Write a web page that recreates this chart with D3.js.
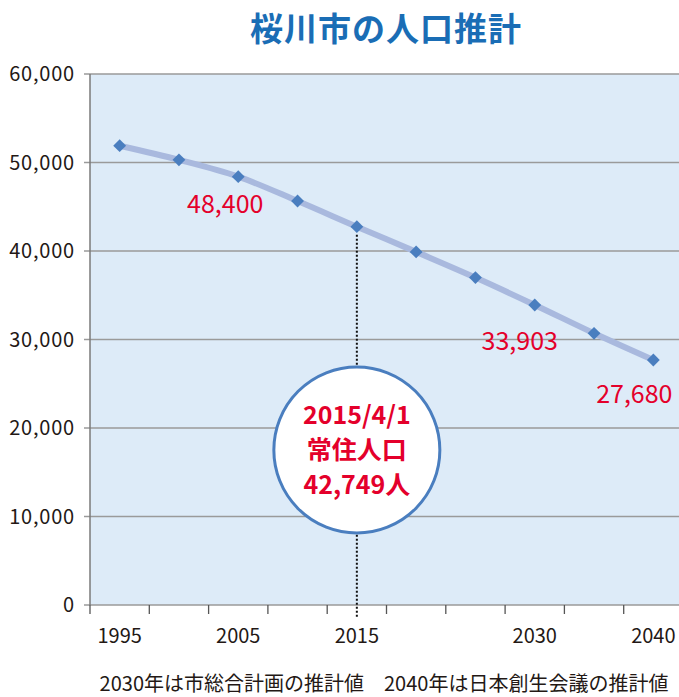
<!DOCTYPE html>
<html>
<head>
<meta charset="utf-8">
<script src="https://cdn.jsdelivr.net/npm/d3@7"></script>
<style>
  body { margin: 0; background: #fff; }
  text { font-family: "Noto Sans CJK JP", "Noto Sans", sans-serif; }
</style>
</head>
<body>
<div id="chart"></div>
<script>
const years = ['1995', '2000', '2005', '2010', '2015', '2020', '2025', '2030', '2035', '2040'];
const population = [51900, 50300, 48400, 45650, 42749, 39900, 37000, 33903, 30700, 27680];
const shownYears = ['1995', '2005', '2015', '2030', '2040'];
const yTicks = [0, 10000, 20000, 30000, 40000, 50000, 60000];
const labelled = [
  {year: '2005', text: '48,400', dx: -13, dy: 36},
  {year: '2030', text: '33,903', dx: -15, dy: 45},
  {year: '2040', text: '27,680', dx: -19, dy: 43}
];
const bubbleLines = ['2015/4/1', '常住人口', '42,749人'];
const footnote = '2030年は市総合計画の推計値　2040年は日本創生会議の推計値';

const W = 679, H = 697;
const svg = d3.select('#chart').append('svg').attr('width', W).attr('height', H);

const x = d3.scaleBand().domain(years).range([90, 683]);
const y = d3.scaleLinear().domain([0, 60000]).range([605, 74]);

// title
svg.append('text').attr('x', 386).attr('y', 41).attr('text-anchor', 'middle')
  .style('font-size', '33px').style('font-weight', 'bold').style('fill', '#1a6db5')
  .style('letter-spacing', '1px')
  .text('桜川市の人口推計');

// plot background
svg.append('rect').attr('x', 90).attr('y', y(60000)).attr('width', W - 90).attr('height', y(0) - y(60000))
  .style('fill', '#ddebf8');

// grid
svg.selectAll('.grid').data(yTicks).enter().append('line')
  .attr('x1', 84).attr('x2', W).attr('y1', d => y(d)).attr('y2', d => y(d))
  .style('stroke', '#9a9a9a').style('stroke-width', 1.3);

// y labels
svg.selectAll('.ylab').data(yTicks).enter().append('text')
  .attr('x', 75).attr('y', d => y(d) + 7).attr('text-anchor', 'end')
  .style('font-size', '20px').style('letter-spacing', '0.8px').style('fill', '#231815')
  .text(d => d3.format(',')(d));

// y axis line
svg.append('line').attr('x1', 90).attr('x2', 90).attr('y1', y(60000)).attr('y2', y(0))
  .style('stroke', '#7a7a7a').style('stroke-width', 1.5);

// x tick marks at band boundaries
svg.selectAll('.xtick').data(years).enter().append('line')
  .attr('x1', d => x(d)).attr('x2', d => x(d)).attr('y1', y(0)).attr('y2', y(0) + 9)
  .style('stroke', '#555').style('stroke-width', 1.3);

// x labels
svg.selectAll('.xlab').data(shownYears).enter().append('text')
  .attr('x', d => x(d) + x.bandwidth() / 2).attr('y', 643).attr('text-anchor', 'middle')
  .style('font-size', '20px').style('fill', '#231815')
  .text(d => d);

// dotted line at 2015
const cx15 = x('2015') + x.bandwidth() / 2;
svg.append('line').attr('x1', cx15).attr('x2', cx15)
  .attr('y1', y(population[years.indexOf('2015')]) + 8).attr('y2', y(0) + 12)
  .style('stroke', '#111').style('stroke-width', 2).style('stroke-dasharray', '2,2');

// line
const pts = years.map((yr, i) => [x(yr) + x.bandwidth() / 2, y(population[i])]);
svg.append('path').attr('d', d3.line().curve(d3.curveMonotoneX)(pts))
  .style('fill', 'none').style('stroke', '#a9b9de').style('stroke-width', 6);

// markers
svg.selectAll('.pt').data(pts).enter().append('path')
  .attr('d', d3.symbol().type(d3.symbolDiamond2).size(105))
  .attr('transform', d => `translate(${d[0]},${d[1]})`)
  .style('fill', '#4a7ebf');

// data labels
svg.selectAll('.dlab').data(labelled).enter().append('text')
  .attr('x', d => x(d.year) + x.bandwidth() / 2 + d.dx)
  .attr('y', d => y(population[years.indexOf(d.year)]) + d.dy)
  .attr('text-anchor', 'middle')
  .style('font-size', '25px').style('fill', '#e4002b')
  .text(d => d.text);

// bubble
svg.append('circle').attr('cx', cx15).attr('cy', 450).attr('r', 83)
  .style('fill', '#fff').style('stroke', '#4a7ebf').style('stroke-width', 3);
svg.selectAll('.btxt').data(bubbleLines).enter().append('text')
  .attr('x', cx15).attr('y', (d, i) => 424 + i * 35).attr('text-anchor', 'middle')
  .style('font-size', '25px').style('font-weight', 'bold').style('fill', '#e4002b')
  .text(d => d);

// footnote
svg.append('text').attr('x', 384).attr('y', 691).attr('text-anchor', 'middle')
  .style('font-size', '20px').style('fill', '#231815')
  .text(footnote);
</script>
</body>
</html>
